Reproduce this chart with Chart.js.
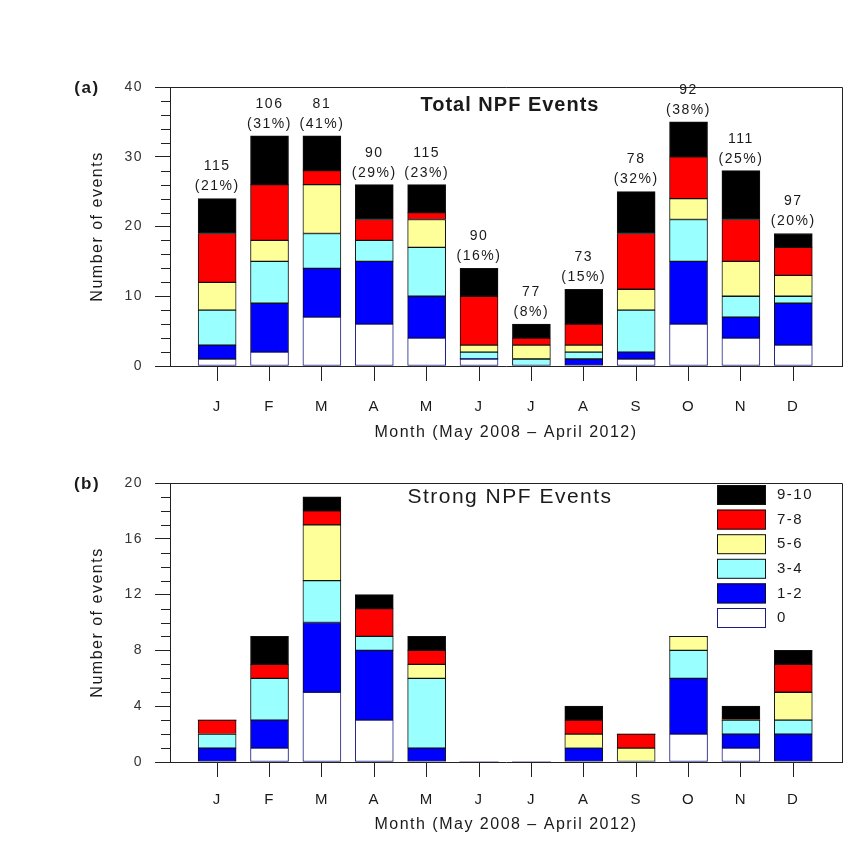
<!DOCTYPE html>
<html>
<head>
<meta charset="utf-8">
<script src="https://cdn.jsdelivr.net/npm/chart.js@4.4.1/dist/chart.umd.min.js"></script>
<style>
html, body { margin: 0; padding: 0; background: #fff; }
#wrap { position: relative; width: 862px; height: 862px; }
#boxA { position: absolute; left: 0; top: 0; width: 862px; height: 450px; }
#boxB { position: absolute; left: 0; top: 450px; width: 862px; height: 412px; }
</style>
</head>
<body>
<div id="wrap">
  <div id="boxA"><canvas id="chartA"></canvas></div>
  <div id="boxB"><canvas id="chartB"></canvas></div>
</div>
<script>
const months = ['J', 'F', 'M', 'A', 'M', 'J', 'J', 'A', 'S', 'O', 'N', 'D'];
const classes = ['0', '1-2', '3-4', '5-6', '7-8', '9-10'];
const colors = ['#ffffff', '#0000ff', '#99ffff', '#ffff99', '#ff0000', '#000000'];

// (a) total NPF events, per class
const totZero = [1, 2, 7, 6, 4, 1, 0, 0, 1, 6, 4, 3];
const totOneTwo = [2, 7, 7, 9, 6, 0, 0, 1, 1, 9, 3, 6];
const totThreeFour = [5, 6, 5, 3, 7, 1, 1, 1, 6, 6, 3, 1];
const totFiveSix = [4, 3, 7, 0, 4, 1, 2, 1, 3, 3, 5, 3];
const totSevenEight = [7, 8, 2, 3, 1, 7, 1, 3, 8, 6, 6, 4];
const totNineTen = [5, 7, 5, 5, 4, 4, 2, 5, 6, 5, 7, 2];

// days observed and share of NPF days (labels above bars)
const obsDays = [115, 106, 81, 90, 115, 90, 77, 73, 78, 92, 111, 97];
const npfPct = [21, 31, 41, 29, 23, 16, 8, 15, 32, 38, 25, 20];

// (b) strong NPF events, per class
const strZero = [0, 1, 5, 3, 0, 0, 0, 0, 0, 2, 1, 0];
const strOneTwo = [1, 2, 5, 5, 1, 0, 0, 1, 0, 4, 1, 2];
const strThreeFour = [1, 3, 3, 1, 5, 0, 0, 0, 0, 2, 1, 1];
const strFiveSix = [0, 0, 4, 0, 1, 0, 0, 1, 1, 1, 0, 2];
const strSevenEight = [1, 1, 1, 2, 1, 0, 0, 1, 1, 0, 0, 2];
const strNineTen = [0, 2, 1, 1, 1, 0, 0, 1, 0, 0, 1, 1];

const FONT = '"Liberation Sans", Arial, sans-serif';
const INK = '#1a1a1a';

function buildSets(series) {
    return series.map((vals, k) => ({
        label: classes[k],
        data: vals.map((v, i) => ({ x: i + 1, y: v })),
        backgroundColor: colors[k],
        borderColor: k === 0 ? '#1c1c80' : '#111',
        borderWidth: ctx => (ctx.raw && ctx.raw.y === 0) ? 0 : 1,
        borderSkipped: false,
        barThickness: 38,
        stack: 's',
    }));
}

const decor = {
    id: 'decor',
    beforeDraw(chart) {
        chart.ctx.letterSpacing = '1.5px';
    },
    afterDraw(chart, args, opts) {
        const { ctx, chartArea: ca, scales: { x, y } } = chart;
        ctx.save();
        ctx.letterSpacing = '1.5px';
        // top + right frame
        ctx.strokeStyle = '#222';
        ctx.lineWidth = 1;
        ctx.beginPath();
        ctx.moveTo(ca.left, Math.round(ca.top) + 0.5);
        ctx.lineTo(Math.round(ca.right) + 0.5, Math.round(ca.top) + 0.5);
        ctx.lineTo(Math.round(ca.right) + 0.5, ca.bottom);
        ctx.stroke();
        // minor ticks
        ctx.beginPath();
        for (let v = y.min; v <= y.max; v += opts.minor) {
            if (v % opts.major === 0) continue;
            const py = Math.round(y.getPixelForValue(v)) + 0.5;
            ctx.moveTo(ca.left - 9, py);
            ctx.lineTo(ca.left, py);
        }
        ctx.stroke();

        ctx.fillStyle = INK;
        ctx.textBaseline = 'middle';
        // panel letter
        ctx.textAlign = 'center';
        ctx.font = 'bold 17px ' + FONT;
        ctx.fillText(opts.panel, 87, ca.top + 1);
        // inner title
        ctx.letterSpacing = opts.titleSpacing;
        ctx.font = opts.titleFont;
        ctx.fillText(opts.title, 510, ca.top + opts.titleDy);
        ctx.letterSpacing = '1.5px';

        if (opts.notes) {
            ctx.font = '14px ' + FONT;
            months.forEach((m, i) => {
                let total = 0;
                chart.data.datasets.forEach(ds => { total += ds.data[i].y; });
                const px = x.getPixelForValue(i + 1);
                const py = y.getPixelForValue(total);
                ctx.fillText('(' + npfPct[i] + '%)', px, py - 12);
                ctx.fillText(String(obsDays[i]), px, py - 32);
            });
        }

        if (opts.legend) {
            ctx.font = '15px ' + FONT;
            ctx.textAlign = 'left';
            const sets = chart.data.datasets;
            for (let r = 0; r < sets.length; r++) {
                const ds = sets[sets.length - 1 - r];
                const by = ca.top + 2 + r * 24.6;
                ctx.fillStyle = ds.backgroundColor;
                ctx.fillRect(717, by, 49, 20);
                ctx.strokeStyle = ds.borderColor;
                ctx.strokeRect(717.5, by + 0.5, 48, 19);
                ctx.fillStyle = INK;
                ctx.fillText(ds.label, 777, by + 10);
            }
        }
        ctx.restore();
    }
};

function makeChart(id, series, cfg) {
    const canvasH = cfg.canvasH;
    return new Chart(document.getElementById(id), {
        type: 'bar',
        data: { datasets: buildSets(series) },
        options: {
            responsive: true,
            maintainAspectRatio: false,
            animation: false,
            layout: { padding: { left: 0, right: 20, top: cfg.top, bottom: 0 } },
            plugins: {
                legend: { display: false },
                tooltip: { enabled: false },
                decor: cfg.decor,
            },
            scales: {
                x: {
                    type: 'linear',
                    offset: false,
                    min: 0.1,
                    max: 12.93,
                    afterBuildTicks: s => { s.ticks = months.map((m, i) => ({ value: i + 1 })); },
                    afterFit: s => { s.height = canvasH - cfg.bottom; },
                    grid: { offset: false, drawOnChartArea: false, tickLength: 15, tickColor: '#222' },
                    border: { color: '#222' },
                    ticks: {
                        autoSkip: false,
                        maxRotation: 0,
                        padding: cfg.tickPad,
                        color: INK,
                        font: { family: FONT, size: 15 },
                        callback: (v, i) => months[i],
                    },
                    title: {
                        display: true,
                        text: 'Month (May 2008 \u2013 April 2012)',
                        color: INK,
                        font: { family: FONT, size: 16 },
                        padding: { top: 0, bottom: cfg.titlePad },
                    },
                },
                y: {
                    stacked: true,
                    min: 0,
                    max: cfg.yMax,
                    afterFit: s => { s.width = 170; },
                    grid: { drawOnChartArea: false, tickLength: 15, tickColor: '#222' },
                    border: { color: '#222' },
                    ticks: {
                        stepSize: cfg.yStep,
                        padding: 12,
                        color: '#333',
                        font: { family: FONT, size: 14 },
                    },
                    title: {
                        display: true,
                        text: 'Number of events',
                        color: INK,
                        font: { family: FONT, size: 16 },
                        padding: { top: 88, bottom: 0 },
                    },
                },
            },
        },
        plugins: [decor],
    });
}

makeChart('chartA', [totZero, totOneTwo, totThreeFour, totFiveSix, totSevenEight, totNineTen], {
    canvasH: 450, top: 87, bottom: 366, tickPad: 17, titlePad: 8, yMax: 40, yStep: 10,
    decor: { panel: '(a)', title: 'Total NPF Events', titleFont: 'bold 20px ' + FONT, titleSpacing: '1px',
             titleDy: 18, minor: 2, major: 10, notes: true, legend: false },
});

makeChart('chartB', [strZero, strOneTwo, strThreeFour, strFiveSix, strSevenEight, strNineTen], {
    canvasH: 412, top: 33, bottom: 312, tickPad: 14, titlePad: 28, yMax: 20, yStep: 4,
    decor: { panel: '(b)', title: 'Strong NPF Events', titleFont: '21px ' + FONT, titleSpacing: '1.5px',
             titleDy: 14, minor: 1, major: 4, notes: false, legend: true },
});
</script>
</body>
</html>
